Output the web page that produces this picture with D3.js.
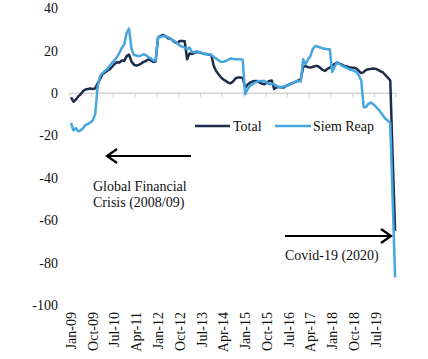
<!DOCTYPE html>
<html>
<head>
<meta charset="utf-8">
<script src="https://cdn.jsdelivr.net/npm/d3@7"></script>
<style>
html,body{margin:0;padding:0;background:#fff;}
svg{display:block;}
text{font-family:"Liberation Serif","DejaVu Serif",serif;fill:#111;}
</style>
</head>
<body>
<svg id="chart" width="428" height="359"></svg>
<script>
// Monthly categories Jan-09 .. Mar-20
const categories = d3.timeMonth.range(new Date(2009,0,1), new Date(2020,3,1)).map(d3.timeFormat("%b-%y"));
const tickLabels = ["Jan-09","Oct-09","Jul-10","Apr-11","Jan-12","Oct-12","Jul-13","Apr-14","Jan-15","Oct-15","Jul-16","Apr-17","Jan-18","Oct-18","Jul-19"];
const yTicks = [40,20,0,-20,-40,-60,-80,-100];
const seriesNames = ["Total","Siem Reap"];
const totalValues = [
 -2,-4,-3,-1.5,-0.5,1,1.8,2,2.2,2,2.3,4.5,6.6,9,9.8,10.6,11.3,12.5,13.8,14.6,
 14.5,15.5,15.2,17.5,18.2,15,13.5,13,13.4,14,14.8,15.2,16,15.5,14.8,15,26.5,27,27.5,27,
 26,25.8,25,24,23.5,24.7,24.7,24.5,16,18.8,18.5,19,19.5,19.3,19,18.6,18.5,18.3,18,13,
 10.5,9,7.5,6.5,5.8,5,4.7,5.5,7,7.4,7.4,7.2,2.7,4,5,5.5,5.8,5.8,5,4.5,
 4.2,5,5.8,6,2,2.8,3,2.8,2.7,3.5,4,4.5,5,5.5,6,6.5,12.5,12.8,12.3,12.1,
 12.5,12.8,12.9,12,11,10.5,11.5,12.1,13,13.8,14.5,14,13.5,12.9,12.6,12.3,12.1,12,11.7,10.5,
 9.5,10,11,11.3,11.5,11.7,11.5,11,10.3,9.8,8.5,7.4,6,-30,-65
];
const siemReapValues = [
 -14,-17.5,-16.5,-18,-17.5,-16.5,-15,-14.5,-13.8,-12.8,-10,3,8,9.5,10.5,11.3,13,14.5,15.5,17,
 19,21.5,23,28.5,30.5,21,18,17.8,17.5,17.8,18.4,18,17,16.5,15.5,15.5,26.5,26.5,27,26.8,
 26.5,26,25,24.5,23.5,22.5,22,21.5,20.8,21.5,19.5,19.5,19.8,19.5,19,18.5,18.4,18.4,18.2,17,
 16.4,15.5,14.8,14.8,15.2,15.8,16.4,16.2,16,16,16,15.8,-0.5,1.9,3.5,4.2,5,5.5,5.8,5.8,
 5.8,5,4.2,4.5,4.2,3.5,2.7,3,3.2,3.5,3.8,4.5,5,5.5,5.8,5.5,16,13.7,16,17.6,
 21,22.3,22,21.6,21.2,21,20.8,20.8,10,12.5,14.5,13.8,13,12.5,12,11.3,11,10.5,10.1,8.5,
 6,-6.6,-6.5,-5,-4.4,-5.2,-6.3,-7.5,-9,-10.5,-12,-13,-14,-50,-87
];
const colors = ["#1c2c4c","#45a6e0"];

const svg = d3.select("#chart");
const x = d3.scaleBand().domain(categories).range([69.8, 396.3]).padding(0);
const xc = c => x(c) + x.bandwidth()/2;
const y = d3.scaleLinear().domain([-100, 40]).range([305, 8.5]);

// y labels
svg.append("g").selectAll("text").data(yTicks).join("text")
  .attr("x", 58).attr("y", d => y(d)).attr("dy", "0.35em")
  .attr("text-anchor", "end").attr("font-size", 14).text(d => d);

// x axis line at 0
const axisG = svg.append("g").attr("transform", `translate(0,${y(0)})`);
axisG.append("line").attr("x1", 69.8).attr("x2", 396.3).attr("y1",0).attr("y2",0)
  .attr("stroke", "#d4d4d4").attr("stroke-width", 1.5);
const tickIdx = d3.range(0, categories.length + 1, 9);
axisG.selectAll("line.tk").data(tickIdx).join("line").attr("class","tk")
  .attr("x1", i => i < categories.length ? x(categories[i]) : 396.3)
  .attr("x2", i => i < categories.length ? x(categories[i]) : 396.3)
  .attr("y1", 0).attr("y2", 4).attr("stroke", "#d4d4d4").attr("stroke-width", 1.2);

// x labels rotated
svg.append("g").selectAll("text").data(tickLabels).join("text")
  .attr("transform", d => `translate(${xc(d)},312) rotate(-90)`)
  .attr("dy", "0.35em").attr("text-anchor", "end").attr("font-size", 14).text(d => d);

// lines
const line = d3.line().x((d,i) => xc(categories[i])).y(d => y(d));
[totalValues, siemReapValues].forEach((vals, k) => {
  svg.append("path").datum(vals).attr("d", line)
    .attr("fill", "none").attr("stroke", colors[k]).attr("stroke-width", 2.5)
    .attr("stroke-linejoin", "round");
});

// legend
const legend = [{name: seriesNames[0], x1: 195, x2: 230, tx: 233}, {name: seriesNames[1], x1: 275, x2: 311, tx: 313}];
legend.forEach((l, k) => {
  svg.append("line").attr("x1", l.x1).attr("x2", l.x2).attr("y1", 126).attr("y2", 126)
    .attr("stroke", colors[k]).attr("stroke-width", 2.5);
  svg.append("text").attr("x", l.tx).attr("y", 126).attr("dy", "0.35em")
    .attr("font-size", 14).text(l.name);
});

// annotations
function arrow(xTail, xTip, yy) {
  const dir = xTip > xTail ? 1 : -1;
  svg.append("line").attr("x1", xTail).attr("x2", xTip - dir*1).attr("y1", yy).attr("y2", yy)
    .attr("stroke", "#000").attr("stroke-width", 2);
  svg.append("path")
    .attr("d", `M${xTip - dir*10},${yy-7} L${xTip},${yy} L${xTip - dir*10},${yy+7}`)
    .attr("fill", "none").attr("stroke", "#000").attr("stroke-width", 2.2);
}
arrow(191, 107, 156);
arrow(285, 391, 236);
svg.append("text").attr("x", 93).attr("y", 191).attr("font-size", 14).text("Global Financial");
svg.append("text").attr("x", 93).attr("y", 207).attr("font-size", 14).text("Crisis (2008/09)");
svg.append("text").attr("x", 285).attr("y", 260).attr("font-size", 14).text("Covid-19 (2020)");
</script>
</body>
</html>
